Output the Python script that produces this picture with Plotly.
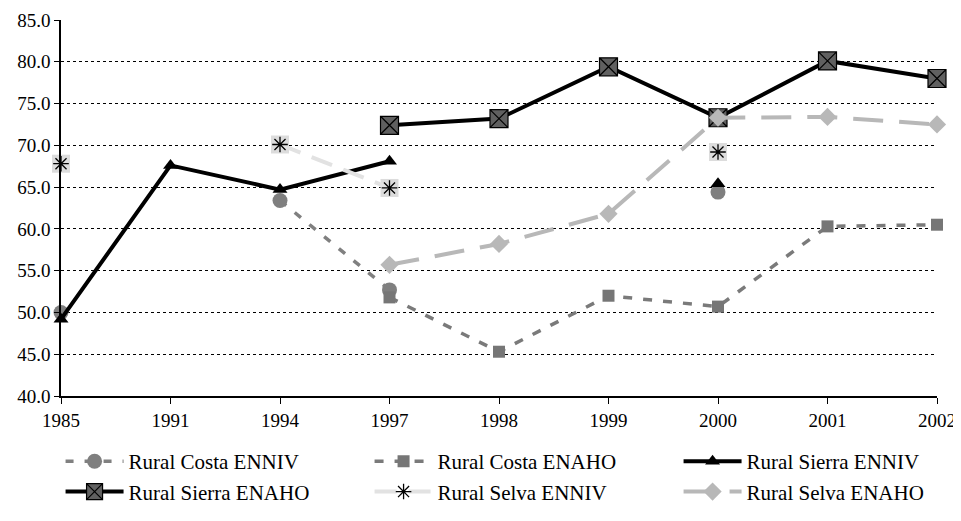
import plotly.graph_objects as go

years = ["1985", "1991", "1994", "1997", "1998", "1999", "2000", "2001", "2002"]
costa_enniv = [50.0, None, 63.4, 52.7, None, None, 64.4, None, None]
costa_enaho = [None, None, None, 51.8, 45.3, 52.0, 50.7, 60.3, 60.5]
sierra_enniv = [49.2, 67.6, 64.7, 68.1, None, None, 65.4, None, None]
sierra_enaho = [None, None, None, 72.4, 73.2, 79.4, 73.3, 80.1, 78.0]
selva_enniv = [67.8, None, 70.1, 64.9, None, None, 69.2, None, None]
selva_enaho = [None, None, None, 55.7, 58.2, 61.8, 73.3, 73.4, 72.5]
y_ticks = [40, 45, 50, 55, 60, 65, 70, 75, 80, 85]

FONT = "Liberation Serif"
fig = go.Figure()

fig.add_trace(go.Scatter(
    x=years, y=costa_enniv, name="Rural Costa ENNIV", mode="lines+markers",
    line=dict(color="#808080", width=3.5, dash="8px,11px"),
    marker=dict(symbol="circle", size=15, color="#7f7f7f"),
    cliponaxis=False, connectgaps=False))
fig.add_trace(go.Scatter(
    x=years, y=costa_enaho, name="Rural Costa ENAHO", mode="lines+markers",
    line=dict(color="#7a7a7a", width=3.5, dash="9px,11px"),
    marker=dict(symbol="square", size=12, color="#767676"),
    cliponaxis=False, connectgaps=False))
fig.add_trace(go.Scatter(
    x=years, y=sierra_enniv, name="Rural Sierra ENNIV", mode="lines+markers",
    line=dict(color="#000000", width=4),
    marker=dict(symbol="triangle-up", size=13, color="#000000"),
    cliponaxis=False, connectgaps=False))
fig.add_trace(go.Scatter(
    x=years, y=sierra_enaho, name="Rural Sierra ENAHO", mode="lines+markers",
    line=dict(color="#000000", width=4),
    marker=dict(symbol="square-x", size=18, color="#606060",
                line=dict(color="#000000", width=1.2)),
    cliponaxis=False, connectgaps=False))
# light background square behind the asterisk markers
fig.add_trace(go.Scatter(
    x=years, y=selva_enniv, mode="markers", showlegend=False, hoverinfo="skip",
    marker=dict(symbol="square", size=18, color="#dcdcdc"),
    cliponaxis=False))
fig.add_trace(go.Scatter(
    x=years, y=selva_enniv, name="Rural Selva ENNIV", mode="lines+markers",
    line=dict(color="#e2e2e2", width=4, dash="22px,12px"),
    marker=dict(symbol="asterisk", size=13, color="#000000",
                line=dict(color="#000000", width=1.3)),
    cliponaxis=False, connectgaps=False))
fig.add_trace(go.Scatter(
    x=years, y=selva_enaho, name="Rural Selva ENAHO", mode="lines+markers",
    line=dict(color="#b8b8b8", width=4, dash="30px,16px"),
    marker=dict(symbol="diamond", size=14, color="#b8b8b8"),
    cliponaxis=False, connectgaps=False))

# page body has an 8px margin, so the figure is sized/offset to compensate
fig.update_layout(
    width=953, height=513,
    margin=dict(l=53, r=24, t=12, b=125, autoexpand=False),
    paper_bgcolor="white", plot_bgcolor="white",
    font=dict(family=FONT, size=18, color="#000000"),
    showlegend=True,
    legend=dict(orientation="h", x=-0.0005, y=-0.12, xanchor="left", yanchor="top",
                entrywidth=236, entrywidthmode="pixels",
                font=dict(family=FONT, size=21), itemwidth=58,
                tracegroupgap=0),
    xaxis=dict(type="category", range=[0, 8], showline=True, linecolor="#000000",
               linewidth=1.5, ticks="outside", ticklen=6, tickcolor="#000000",
               showgrid=False, zeroline=False, automargin=False,
               tickfont=dict(family=FONT, size=19)),
    yaxis=dict(range=[40, 85], tickvals=y_ticks, tickformat=".1f",
               showline=True, linecolor="#000000", linewidth=1.5,
               ticks="outside", ticklen=5, tickcolor="#000000",
               showgrid=True, gridcolor="#000000", gridwidth=1, griddash="dot",
               zeroline=False, automargin=False,
               tickfont=dict(family=FONT, size=19)),
)

fig.write_html("out.html")
